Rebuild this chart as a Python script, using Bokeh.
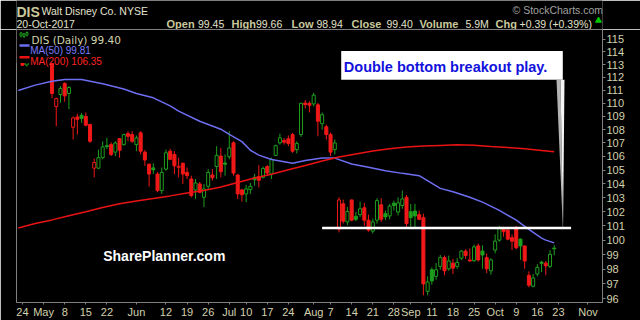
import pandas as pd
from bokeh.plotting import figure
from bokeh.models import Range1d, FixedTicker, LinearScale, PrintfTickFormatter
from bokeh.layouts import column
from bokeh.embed import file_html
from bokeh.resources import INLINE
from bokeh.core.properties import value

# ---------------- data ----------------
holidays = ["2017-05-29", "2017-07-04", "2017-09-04"]
first_day = "2017-04-21"

opens = [113.9, 114.2, 112.98, 114.4, 114.3, 114.8, 114.5, 115.0, 113.5, 109.75,
         110.67, 111.53, 110.75, 108.18, 108.96, 109.08, 109.0, 108.38, 105.14, 105.14,
         105.91, 106.80, 106.88, 106.32, 107.33, 106.88, 107.7, 107.63, 106.88, 107.76,
         106.32, 105.43, 105.16, 104.71, 103.51, 105.07, 106.39, 106.15, 105.2, 105.5,
         104.83, 104.35, 103.56, 103.99, 103.03, 103.82, 104.64, 105.26, 106.03, 105.52,
         105.98, 107.01, 104.64, 103.56, 103.27, 103.58, 104.47, 104.54, 104.47, 105.26,
         104.71, 106.08, 107.01, 107.18, 107.31, 107.63, 106.51, 107.63, 110.02, 110.0,
         109.95, 109.88, 108.45, 108.21, 107.63, 106.51, 100.77, 102.56, 101.28, 102.84,
         101.67, 101.79, 102.28, 101.40, 100.63, 101.40, 102.49, 101.86, 101.70, 102.61,
         101.98, 102.44, 103.03, 102.0, 102.05, 101.79, 101.58, 96.50, 97.96, 97.51,
         98.19, 98.79, 98.02, 98.41, 98.19, 98.75, 99.24, 98.63, 98.58, 99.60,
         99.24, 98.79, 97.89, 99.31, 100.0, 100.77, 100.70, 100.17, 100.82, 100.07,
         99.60, 97.58, 96.84, 97.67, 98.48, 98.41, 98.19, 99.45]
highs = [114.3, 114.5, 114.8, 114.9, 115.0, 115.1, 115.2, 115.4, 114.0, 110.44,
         111.32, 111.63, 111.32, 109.0, 109.2, 109.26, 109.3, 108.45, 105.84, 106.51,
         107.13, 107.38, 107.05, 107.13, 107.35, 107.7, 107.88, 107.88, 107.56, 107.88,
         106.47, 105.48, 105.5, 104.85, 105.19, 106.51, 106.56, 106.39, 105.91, 105.55,
         105.19, 104.59, 104.35, 104.13, 103.99, 105.07, 105.07, 106.76, 106.63, 106.15,
         107.88, 107.13, 104.71, 103.63, 103.92, 104.06, 104.71, 105.36, 105.26, 105.36,
         105.91, 106.88, 107.7, 107.38, 107.56, 107.76, 107.13, 110.05, 110.25, 110.15,
         110.80, 110.03, 109.3, 108.38, 107.78, 107.26, 103.03, 102.86, 102.33, 102.86,
         101.98, 102.72, 102.63, 101.79, 101.51, 102.96, 102.96, 102.09, 102.56, 102.79,
         103.03, 103.51, 103.20, 102.56, 102.56, 102.09, 101.86, 97.51, 98.12, 98.41,
         98.97, 98.93, 98.93, 98.70, 98.75, 99.31, 99.37, 99.42, 99.69, 99.76,
         99.64, 99.08, 98.75, 100.40, 101.0, 100.93, 100.93, 100.40, 101.0, 100.11,
         99.60, 97.85, 97.67, 98.34, 98.56, 98.56, 99.31, 99.66]
lows = [113.4, 112.9, 112.85, 113.9, 113.8, 114.0, 114.2, 113.9, 110.39, 108.25,
        110.05, 110.12, 109.55, 107.26, 107.63, 108.51, 108.25, 107.01, 104.47, 105.07,
        105.79, 106.56, 106.03, 106.03, 105.91, 106.80, 107.13, 107.01, 106.39, 106.15,
        105.31, 103.80, 104.71, 103.39, 103.27, 104.95, 105.74, 104.71, 104.47, 103.99,
        104.35, 103.03, 102.91, 103.32, 102.33, 103.63, 104.23, 104.35, 104.47, 104.59,
        105.79, 104.59, 102.91, 102.72, 102.68, 103.27, 103.87, 103.75, 104.40, 104.59,
        104.35, 106.03, 106.88, 106.88, 106.76, 106.27, 106.22, 107.46, 109.6, 109.3,
        109.75, 107.5, 108.0, 107.26, 106.03, 106.15, 100.54, 101.16, 101.05, 101.33,
        101.33, 101.63, 101.0, 100.59, 100.47, 101.16, 101.28, 101.40, 101.46, 102.09,
        101.74, 102.21, 100.93, 100.95, 100.87, 101.40, 96.23, 96.23, 96.95, 97.28,
        97.96, 97.58, 97.89, 97.67, 98.02, 98.63, 98.70, 98.52, 98.48, 98.52,
        98.02, 97.73, 97.62, 99.08, 99.89, 100.24, 100.0, 99.31, 99.37, 98.63,
        98.02, 96.77, 96.77, 97.51, 97.80, 97.58, 98.07, 98.94]
closes = [113.8, 112.95, 114.4, 114.2, 114.7, 114.5, 115.0, 114.1, 110.75, 110.36,
          111.14, 110.57, 111.22, 108.88, 108.78, 108.85, 108.33, 107.13, 105.55, 105.91,
          106.71, 106.74, 106.15, 107.0, 106.46, 107.63, 107.5, 107.13, 107.38, 106.39,
          105.74, 104.71, 105.02, 103.51, 104.83, 106.27, 105.79, 105.31, 105.28, 104.71,
          104.59, 103.15, 104.06, 103.39, 103.63, 104.83, 104.44, 106.08, 104.88, 105.43,
          106.63, 104.78, 103.27, 103.22, 103.63, 103.82, 104.30, 104.26, 105.12, 104.78,
          105.79, 106.80, 107.38, 107.06, 106.96, 106.39, 106.96, 110.0, 109.9, 109.85,
          110.62, 108.63, 109.13, 107.63, 106.32, 107.0, 102.84, 101.33, 102.02, 101.40,
          101.46, 102.21, 101.40, 100.70, 101.28, 102.79, 101.46, 101.63, 102.40, 102.44,
          102.63, 102.91, 101.16, 101.58, 101.70, 101.46, 97.0, 97.13, 97.20, 97.96,
          98.79, 97.89, 98.56, 98.07, 98.46, 99.24, 98.93, 98.56, 99.53, 98.63,
          98.97, 98.02, 98.63, 99.93, 100.82, 100.59, 100.07, 99.93, 99.47, 99.60,
          98.56, 96.91, 97.40, 98.12, 98.39, 98.23, 99.02, 99.40]

ma50_dates = ["2017-04-21", "2017-04-27", "2017-05-03", "2017-05-08", "2017-05-12",
              "2017-05-19", "2017-05-26", "2017-06-01", "2017-06-07", "2017-06-13",
              "2017-06-15", "2017-06-22", "2017-06-29", "2017-07-03", "2017-07-07",
              "2017-07-11", "2017-07-13", "2017-07-18", "2017-07-20", "2017-07-25",
              "2017-07-28", "2017-08-03", "2017-08-08", "2017-08-14", "2017-08-18",
              "2017-08-24", "2017-08-30", "2017-09-06", "2017-09-13", "2017-09-18",
              "2017-09-22", "2017-09-27", "2017-10-03", "2017-10-09", "2017-10-12",
              "2017-10-17", "2017-10-18", "2017-10-20"]
ma50_values = [110.98, 111.4, 111.7, 111.84, 111.84, 111.5, 111.1, 110.75, 110.42, 109.8,
               109.4, 108.63, 108.03, 107.65, 107.1, 106.46, 106.1, 105.78, 105.67, 105.5,
               105.7, 105.88, 105.88, 105.45, 105.2, 104.95, 104.76, 104.59, 103.67, 103.43,
               103.03, 102.68, 102.09, 101.4, 100.75, 100.14, 100.0, 99.81]

ma200_dates = ["2017-04-21", "2017-04-27", "2017-05-03", "2017-05-09", "2017-05-15",
               "2017-05-19", "2017-05-25", "2017-06-01", "2017-06-07", "2017-06-13",
               "2017-06-19", "2017-06-23", "2017-06-29", "2017-07-06", "2017-07-12",
               "2017-07-18", "2017-07-24", "2017-07-28", "2017-08-03", "2017-08-09",
               "2017-08-15", "2017-08-21", "2017-08-25", "2017-08-31", "2017-09-07",
               "2017-09-13", "2017-09-19", "2017-09-25", "2017-09-29", "2017-10-05",
               "2017-10-11", "2017-10-17", "2017-10-20"]
ma200_values = [100.85, 101.16, 101.42, 101.72, 102.0, 102.3, 102.56, 102.77, 102.94, 103.13,
                103.34, 103.52, 103.77, 104.1, 104.42, 104.70, 105.02, 105.34, 105.66, 105.96,
                106.19, 106.40, 106.58, 106.71, 106.78, 106.82, 106.86, 106.84, 106.74, 106.67,
                106.58, 106.45, 106.35]

tick_dates = ["2017-04-24", "2017-05-01", "2017-05-08", "2017-05-15", "2017-05-22",
              "2017-06-01", "2017-06-12", "2017-06-19", "2017-06-26", "2017-07-03",
              "2017-07-10", "2017-07-17", "2017-07-24", "2017-08-01", "2017-08-07",
              "2017-08-14", "2017-08-21", "2017-08-28", "2017-09-01", "2017-09-11",
              "2017-09-18", "2017-09-25", "2017-10-02", "2017-10-09", "2017-10-16",
              "2017-10-23", "2017-11-01"]
tick_labels = ["24", "May", "8", "15", "22", "Jun", "12", "19", "26", "Jul", "10", "17",
               "24", "Aug", "7", "14", "21", "28", "Sep", "11", "18", "25", "Oct", "9",
               "16", "23", "Nov"]
y_ticks = list(range(96, 116))

breakout_level = 100.85
breakout_from = "2017-08-03"
breakout_to = "2017-10-26"

# ---------------- styles ----------------
BG = "black"
GRAY = "#808080"
BEIGE = "#d2d2ae"
LIGHT = "#e2e2cc"
UP = "#1e9e1e"
DOWN = "#f01818"
MA50_C = "#6e6ef2"
MA200_C = "#ea1212"
LEFT, RIGHT = 16, 38
HEAD_H = 29
DY = -3   # vertical correction for header text

calendar = pd.bdate_range(first_day, "2017-11-15", freq="C", holidays=holidays)
day_index = {d.strftime("%Y-%m-%d"): i for i, d in enumerate(calendar)}
n = len(closes)
xs = list(range(n))

prev = [opens[0]] + closes[:-1]
colors = [UP if c >= p else DOWN for c, p in zip(closes, prev)]
fills = [col if c < o else BG for col, c, o in zip(colors, closes, opens)]
tops = [max(o, c) for o, c in zip(opens, closes)]
bottoms = [min(o, c) for o, c in zip(opens, closes)]

FW, FH = 640 - LEFT - RIGHT, 320 - HEAD_H - 17

# ---------------- header (coordinates = page pixels) ----------------
h = figure(width=640, height=HEAD_H, x_range=Range1d(LEFT, 640 - RIGHT), y_range=Range1d(HEAD_H, 0),
           toolbar_location=None, output_backend="svg", title=None,
           min_border_left=LEFT, min_border_right=RIGHT, min_border_top=0, min_border_bottom=0,
           x_axis_location=None, y_axis_location=None,
           background_fill_color=BG, border_fill_color=BG, outline_line_color=None)
h.grid.visible = False

def htext(x, y, t, size, color, style="normal", font="Liberation Sans"):
    h.text(x=[x], y=[y + DY], text=[t], text_font=value(font), text_font_size=size,
           text_font_style=style, text_color=color, text_baseline="alphabetic",
           text_align="left")

htext(16, 14, "DIS", "14px", "#c9c99c", "bold")
htext(41, 13.5, "Walt Disney Co. NYSE", "10.5px", LIGHT)
htext(512, 12.5, "\u00a9 StockCharts.com", "10.5px", "#a0a0a0")
htext(16, 26, "20-Oct-2017", "10.5px", LIGHT)
for x, t in [(166, "Open"), (231, "High"), (291, "Low"), (351, "Close"), (419, "Volume"), (495, "Chg")]:
    htext(x, 26, t, "11px", "#c9c99c", "bold")
for x, t in [(197.5, "99.45"), (255.5, "99.66"), (316, "98.94"), (386, "99.40"),
             (465, "5.9M"), (519, "+0.39 (+0.39%)")]:
    htext(x, 26, t, "10.5px", LIGHT)
h.scatter(x=[598], y=[23 + DY], marker="triangle", size=6, color="#00c800")

# ---------------- main chart ----------------
p = figure(width=640, height=320 - HEAD_H,
           x_range=Range1d(-0.42, 138.44), y_range=Range1d(95.75, 115.8),
           y_axis_type="log", y_axis_location="right",
           toolbar_location=None, output_backend="svg", title=None,
           min_border_left=LEFT, min_border_right=RIGHT, min_border_top=0, min_border_bottom=17,
           background_fill_color=BG, border_fill_color=BG, outline_line_color=GRAY)
p.grid.visible = False
p.extra_x_ranges = {"px": Range1d(0, FW)}
p.extra_y_ranges = {"px": Range1d(FH, 0)}
p.extra_x_scales = {"px": LinearScale()}
p.extra_y_scales = {"px": LinearScale()}

# candles
p.segment(x0=xs, y0=lows, x1=xs, y1=highs, line_color=colors, line_width=1)
p.vbar(x=xs, width=0.72, top=tops, bottom=bottoms, fill_color=fills,
       line_color=colors, line_width=1)

# moving averages
p.line(x=[day_index[d] for d in ma50_dates], y=ma50_values, line_color=MA50_C, line_width=1.5)
p.line(x=[day_index[d] for d in ma200_dates], y=ma200_values, line_color=MA200_C, line_width=1.5)

# breakout level
p.line(x=[day_index[breakout_from], day_index[breakout_to]], y=[breakout_level, breakout_level],
       line_color="white", line_width=2.5)

# legend box (pixel coordinates inside the frame)
PX = dict(x_range_name="px", y_range_name="px")
p.quad(left=[0], right=[114], top=[0.5], bottom=[33.5], fill_color=BG, line_color=None, **PX)
p.segment(x0=[4.5, 7.5, 10.5], y0=[2.5, 3.5, 2.0], x1=[4.5, 7.5, 10.5], y1=[8.0, 8.5, 7.0],
          line_color=UP, line_width=1, **PX)
p.quad(left=[3.5, 6.5, 9.5], right=[5.5, 8.5, 11.5], top=[3.5, 4.5, 3.0], bottom=[6.5, 7.0, 5.5],
       fill_color=BG, line_color=UP, line_width=1, **PX)
p.text(x=[15], y=[10.3], text=["DIS (Daily) 99.40"], text_font=value("DejaVu Sans"),
       text_font_size="10.5px", text_color=BEIGE, text_baseline="alphabetic", **PX)
p.segment(x0=[3], y0=[16], x1=[13], y1=[16], line_color=MA50_C, line_width=2.5, **PX)
p.text(x=[13.7], y=[21], text=["MA(50) 99.81"], text_font=value("Liberation Sans"),
       text_font_size="10px", text_color="#7c7cff", text_baseline="alphabetic", **PX)
p.segment(x0=[3], y0=[27.8], x1=[13], y1=[27.8], line_color=MA200_C, line_width=2.5, **PX)
p.text(x=[13.7], y=[32], text=["MA(200) 106.35"], text_font=value("Liberation Sans"),
       text_font_size="10px", text_color="#ff2424", text_baseline="alphabetic", **PX)

# watermark
p.text(x=[86.7], y=[227.7], text=["SharePlanner.com"], text_font=value("Liberation Sans"),
       text_font_size="14px", text_font_style="bold", text_color="white",
       text_baseline="alphabetic", **PX)

# callout
p.quad(left=[324.7], right=[546.3], top=[21.7], bottom=[50.5], fill_color="white",
       line_color=None, **PX)
p.patch(x=[540, 544, 546.5], y=[50.5, 50.5, 203], fill_color="#b4b4b4", line_color=None, **PX)
p.patch(x=[544, 548, 546.5], y=[50.5, 50.5, 203], fill_color="#f4f4f4", line_color=None, **PX)
p.text(x=[327.3], y=[37.7], text=["Double bottom breakout play."], text_font=value("Liberation Sans"),
       text_font_size="14.5px", text_font_style="bold", text_color="#1212dc",
       text_baseline="alphabetic", **PX)

# axes
xt = [day_index[d] for d in tick_dates]
p.xaxis.ticker = FixedTicker(ticks=xt, minor_ticks=[])
p.xaxis.major_label_overrides = {t: l for t, l in zip(xt, tick_labels)}
p.yaxis.ticker = FixedTicker(ticks=y_ticks, minor_ticks=[])
p.yaxis.formatter = PrintfTickFormatter(format="%d")
for ax in (p.xaxis, p.yaxis):
    ax.axis_line_color = GRAY
    ax.major_tick_line_color = GRAY
    ax.major_tick_in = 0
    ax.minor_tick_line_color = None
    ax.major_label_text_color = BEIGE
    ax.major_label_text_font = "Liberation Sans"
    ax.major_label_text_font_size = "11px"
p.xaxis.major_tick_out = 2
p.xaxis.major_label_standoff = 1
p.yaxis.major_tick_out = 3
p.yaxis.major_label_standoff = 1

layout = column(h, p, spacing=0)
open("out.html", "w").write(file_html(layout, INLINE))
